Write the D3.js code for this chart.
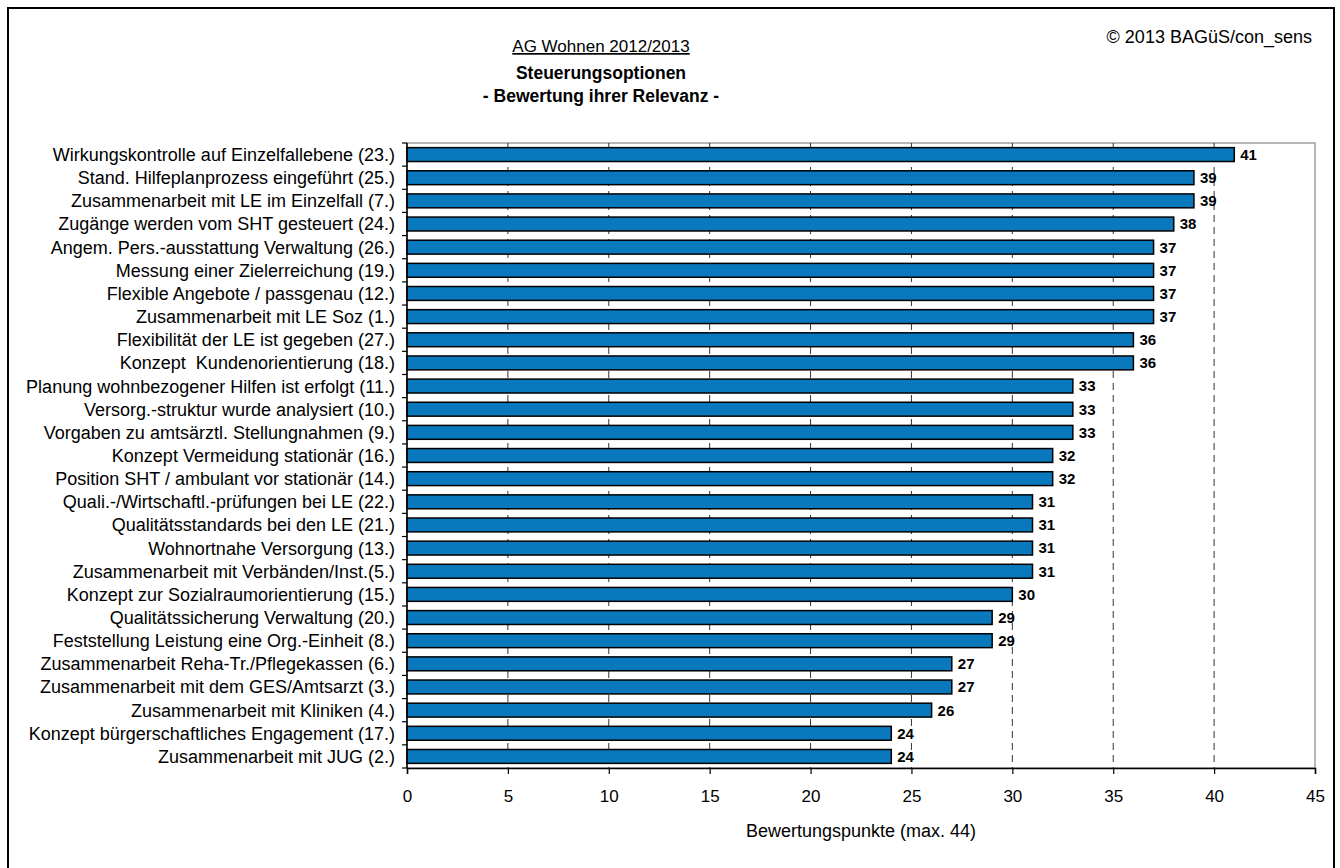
<!DOCTYPE html>
<html>
<head>
<meta charset="utf-8">
<script src="https://cdn.jsdelivr.net/npm/d3@7"></script>
<style>
  body { margin: 0; background: #fff; }
  svg text { font-family: "Liberation Sans", Arial, sans-serif; fill: #000; }
</style>
</head>
<body>
<div id="chart"></div>
<script>
// Kategorien (von oben nach unten) und Bewertungspunkte
const categories = [
  "Wirkungskontrolle auf Einzelfallebene (23.)",
  "Stand. Hilfeplanprozess eingeführt (25.)",
  "Zusammenarbeit mit LE im Einzelfall (7.)",
  "Zugänge werden vom SHT gesteuert (24.)",
  "Angem. Pers.-ausstattung Verwaltung (26.)",
  "Messung einer Zielerreichung (19.)",
  "Flexible Angebote / passgenau (12.)",
  "Zusammenarbeit mit LE Soz (1.)",
  "Flexibilität der LE ist gegeben (27.)",
  "Konzept\u00a0 Kundenorientierung (18.)",
  "Planung wohnbezogener Hilfen ist erfolgt (11.)",
  "Versorg.-struktur wurde analysiert (10.)",
  "Vorgaben zu amtsärztl. Stellungnahmen (9.)",
  "Konzept Vermeidung stationär (16.)",
  "Position SHT / ambulant vor stationär (14.)",
  "Quali.-/Wirtschaftl.-prüfungen bei LE (22.)",
  "Qualitätsstandards bei den LE (21.)",
  "Wohnortnahe Versorgung (13.)",
  "Zusammenarbeit mit Verbänden/Inst.(5.)",
  "Konzept zur Sozialraumorientierung (15.)",
  "Qualitätssicherung Verwaltung (20.)",
  "Feststellung Leistung eine Org.-Einheit (8.)",
  "Zusammenarbeit Reha-Tr./Pflegekassen (6.)",
  "Zusammenarbeit mit dem GES/Amtsarzt (3.)",
  "Zusammenarbeit mit Kliniken (4.)",
  "Konzept bürgerschaftliches Engagement (17.)",
  "Zusammenarbeit mit JUG (2.)"
];
const values = [41, 39, 39, 38, 37, 37, 37, 37, 36, 36, 33, 33, 33, 32, 32, 31, 31, 31, 31, 30, 29, 29, 27, 27, 26, 24, 24];
const xTicks = [0, 5, 10, 15, 20, 25, 30, 35, 40, 45];

const width = 1340, height = 868;
const plot = { left: 407, right: 1315, top: 143, bottom: 768 };

const svg = d3.select("#chart").append("svg")
  .attr("width", width)
  .attr("height", height);

// Rahmen
svg.append("path")
  .attr("d", `M8,${height + 5}V8H1334V${height + 5}`)
  .attr("fill", "none")
  .attr("stroke", "#000")
  .attr("stroke-width", 2);

// Titel
const titleX = 601;
svg.append("text")
  .attr("x", titleX).attr("y", 52)
  .attr("text-anchor", "middle")
  .style("font-size", "17px")
  .style("text-decoration", "underline")
  .text("AG Wohnen 2012/2013");
svg.append("text")
  .attr("x", titleX).attr("y", 79)
  .attr("text-anchor", "middle")
  .style("font-size", "17.5px").style("font-weight", "bold")
  .text("Steuerungsoptionen");
svg.append("text")
  .attr("x", titleX).attr("y", 102)
  .attr("text-anchor", "middle")
  .style("font-size", "17.5px").style("font-weight", "bold")
  .text("- Bewertung ihrer Relevanz -");
svg.append("text")
  .attr("x", 1312).attr("y", 43)
  .attr("text-anchor", "end")
  .style("font-size", "18px")
  .text("© 2013 BAGüS/con_sens");

// Skalen
const x = d3.scaleLinear().domain([0, 45]).range([plot.left, plot.right]);
const y = d3.scaleBand().domain(categories).range([plot.top, plot.bottom]).paddingInner(0.4).paddingOuter(0.2);
const step = y.step();

// Plotrahmen (grau)
svg.append("rect")
  .attr("x", plot.left).attr("y", plot.top)
  .attr("width", plot.right - plot.left).attr("height", plot.bottom - plot.top)
  .attr("fill", "none")
  .attr("stroke", "#a0a0a0")
  .attr("stroke-width", 1.5);

// Gitterlinien (gestrichelt)
svg.append("g")
  .selectAll("line")
  .data(xTicks.filter(d => d > 0 && d < 45))
  .join("line")
  .attr("x1", d => x(d)).attr("x2", d => x(d))
  .attr("y1", plot.top).attr("y2", plot.bottom)
  .attr("stroke", "#333")
  .attr("stroke-width", 1)
  .attr("stroke-dasharray", "7,5");

// Balken
svg.append("g")
  .selectAll("rect")
  .data(values)
  .join("rect")
  .attr("x", x(0))
  .attr("y", (d, i) => y(categories[i]))
  .attr("width", d => x(d) - x(0))
  .attr("height", y.bandwidth())
  .attr("fill", "#0a78bc")
  .attr("stroke", "#000")
  .attr("stroke-width", 1.5);

// Werte
svg.append("g")
  .selectAll("text")
  .data(values)
  .join("text")
  .attr("x", d => x(d) + 6)
  .attr("y", (d, i) => y(categories[i]) + y.bandwidth() / 2)
  .attr("dy", "0.36em")
  .style("font-size", "15px")
  .style("font-weight", "bold")
  .text(d => d);

// X-Achse
const xAxis = svg.append("g")
  .attr("transform", `translate(0,${plot.bottom})`)
  .call(d3.axisBottom(x).tickValues(xTicks).tickSize(6).tickPadding(16));
xAxis.select(".domain").attr("stroke", "#000").attr("stroke-width", 1.5);
xAxis.selectAll(".tick line").attr("stroke", "#000").attr("stroke-width", 1.2);
xAxis.selectAll("text")
  .style("font-size", "17px")
  .style("font-family", "Liberation Sans, Arial, sans-serif");

// Y-Achse (Ticks zwischen den Kategorien)
const yg = svg.append("g");
yg.append("line")
  .attr("x1", plot.left).attr("x2", plot.left)
  .attr("y1", plot.top).attr("y2", plot.bottom)
  .attr("stroke", "#000").attr("stroke-width", 1.5);
yg.selectAll(".ytick")
  .data(d3.range(categories.length + 1))
  .join("line")
  .attr("class", "ytick")
  .attr("x1", plot.left - 5).attr("x2", plot.left)
  .attr("y1", i => plot.top + i * step)
  .attr("y2", i => plot.top + i * step)
  .attr("stroke", "#000").attr("stroke-width", 1.2);
yg.selectAll("text")
  .data(categories)
  .join("text")
  .attr("x", plot.left - 12)
  .attr("y", d => y(d) + y.bandwidth() / 2)
  .attr("dy", "0.36em")
  .attr("text-anchor", "end")
  .style("font-size", "18px")
  .text(d => d);

// Achsentitel
svg.append("text")
  .attr("x", x(22.5)).attr("y", 837)
  .attr("text-anchor", "middle")
  .style("font-size", "18px")
  .text("Bewertungspunkte (max. 44)");
</script>
</body>
</html>
